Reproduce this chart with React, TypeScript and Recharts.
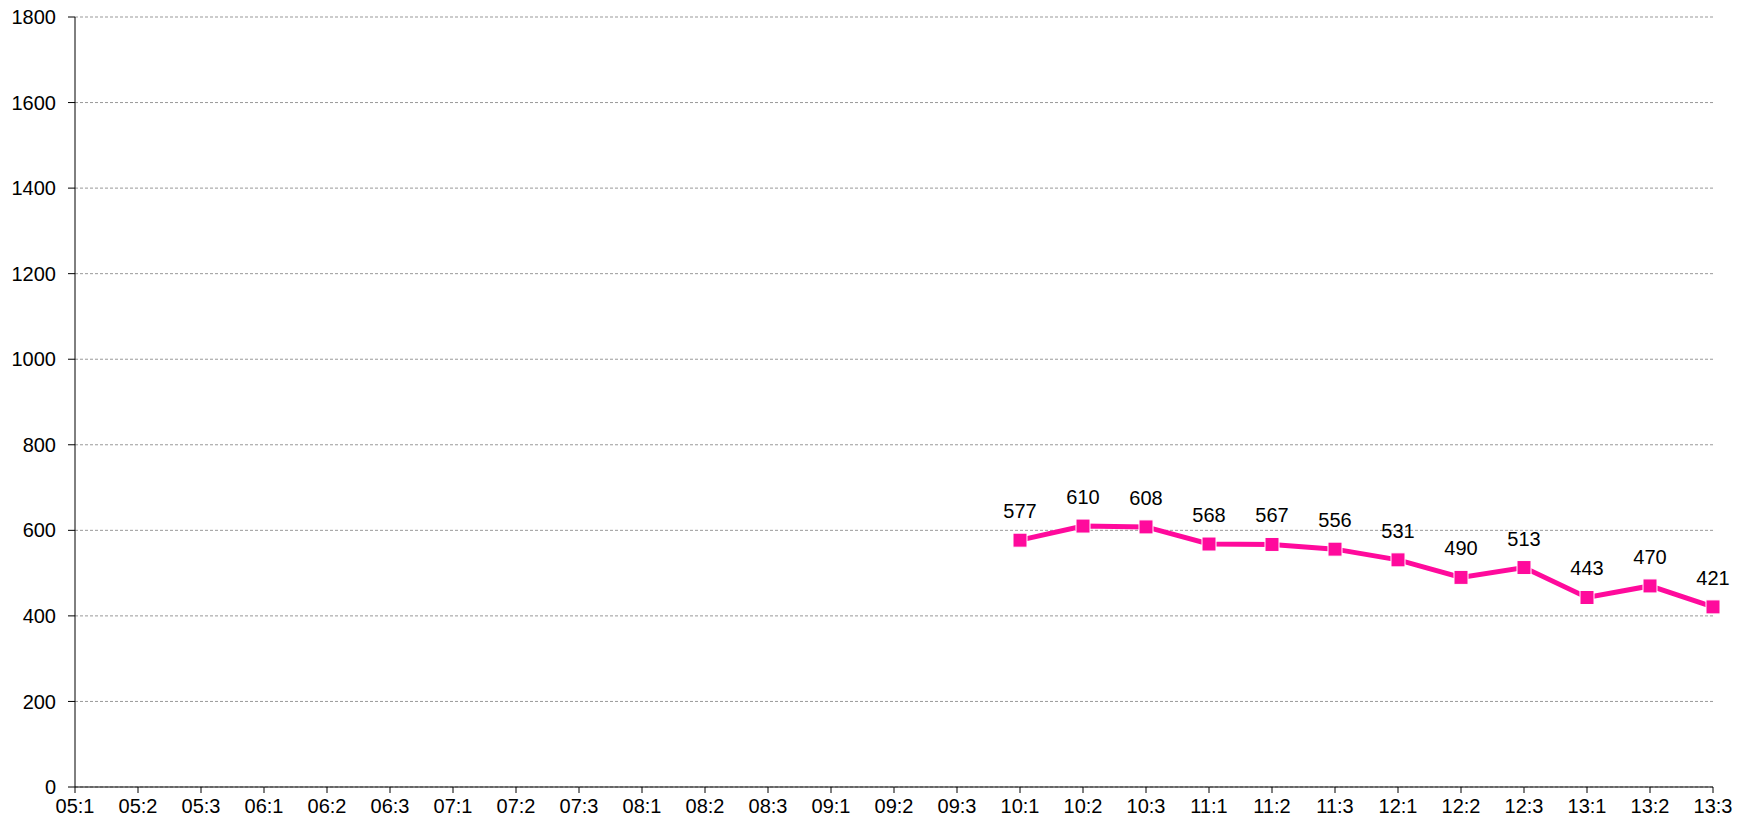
import React from "react";
import { LineChart, Line, XAxis, YAxis, CartesianGrid, LabelList } from "recharts";

const hours = ["05", "06", "07", "08", "09", "10", "11", "12", "13"];
const slots = ["1", "2", "3"];
const categories: string[] = hours.flatMap((h) => slots.map((s) => `${h}:${s}`));

// first 15 slots have no reading
const values: (number | null)[] = [
  null, null, null, null, null, null, null, null, null, null, null, null, null, null, null,
  577, 610, 608, 568, 567, 556, 531, 490, 513, 443, 470, 421,
];

const yTicks = [0, 200, 400, 600, 800, 1000, 1200, 1400, 1600, 1800];

const data = categories.map((label, i) => ({ label, value: values[i] }));

const PINK = "#FF0A9C";
const FONT = "Liberation Sans, Arial, sans-serif";

const SquareDot = (props: any) => {
  const { cx, cy, value } = props;
  if (value == null || cx == null || cy == null) return null;
  return <rect x={cx - 7} y={cy - 7} width={14} height={14} fill={PINK} stroke="#fff" strokeWidth={1} />;
};

const ValueLabel = (props: any) => {
  const { x, y, value } = props;
  if (value == null) return null;
  return (
    <text x={x} y={y - 22} textAnchor="middle" fontSize={20} fill="#000" fontFamily={FONT}>
      {value}
    </text>
  );
};

export default function App() {
  return (
    <div style={{ position: "absolute", left: 0, top: 0, width: 1738, height: 823, background: "#fff" }}>
      <LineChart width={1738} height={823} data={data} margin={{ top: 17, right: 25, bottom: 0, left: 0 }}>
        <CartesianGrid vertical={false} stroke="#999" strokeDasharray="3 2" />
        <XAxis
          dataKey="label"
          interval={0}
          axisLine={{ stroke: "#000" }}
          tickLine={{ stroke: "#000" }}
          tickSize={6}
          tickMargin={6}
          height={36}
          tick={{ fontSize: 20, fill: "#000", fontFamily: FONT }}
        />
        <YAxis
          domain={[0, 1800]}
          ticks={yTicks}
          interval={0}
          width={75}
          axisLine={{ stroke: "#000" }}
          tickLine={{ stroke: "#000" }}
          tickSize={7}
          tickMargin={12}
          tick={{ fontSize: 20, fill: "#000", fontFamily: FONT }}
        />
        <Line
          type="linear"
          dataKey="value"
          stroke={PINK}
          strokeWidth={5}
          dot={<SquareDot />}
          activeDot={false}
          isAnimationActive={false}
        >
          <LabelList dataKey="value" content={<ValueLabel />} />
        </Line>
      </LineChart>
    </div>
  );
}
